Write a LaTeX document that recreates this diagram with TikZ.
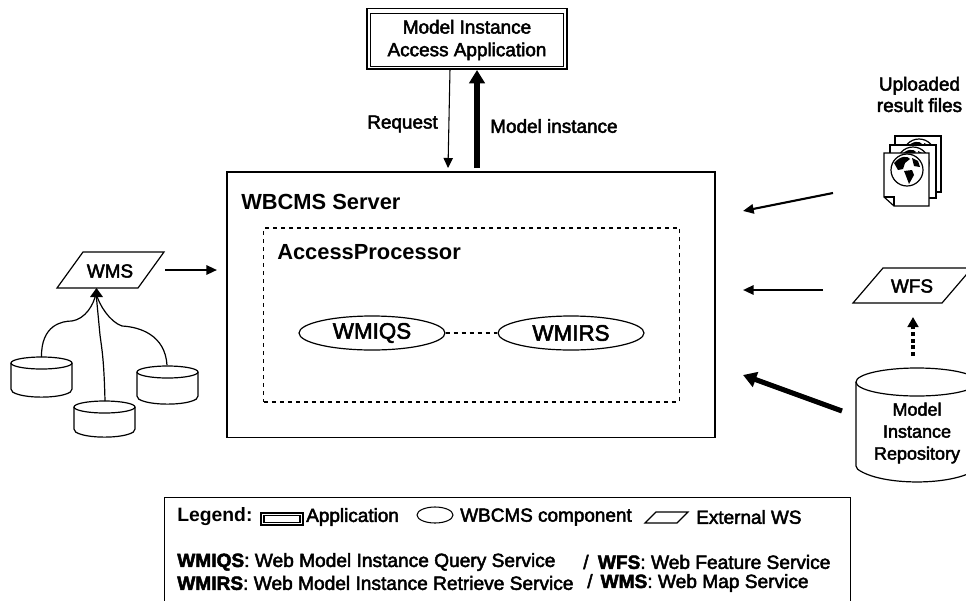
\documentclass[tikz,border=0pt]{standalone}
\usepackage{fontspec}
\setmainfont{Liberation Sans}
\newfontfamily\semi[FakeBold=2.5]{Liberation Sans}
\usetikzlibrary{arrows.meta,shapes.geometric,calc}
\tikzset{
 lbl/.style={font=\fontsize{14.2}{17}\selectfont\semi,align=center,inner sep=0pt},
 ttl/.style={font=\fontsize{16.4}{19}\selectfont\bfseries,inner sep=0pt,anchor=west},
 leg/.style={font=\fontsize{14.2}{17}\selectfont\semi,inner sep=0pt,anchor=west},
 legline/.style={font=\fontsize{14.35}{17}\selectfont\semi,inner sep=0pt,anchor=west},
 ln/.style={draw=black,line width=0.9pt},
 ell/.style={ellipse,draw=black,line width=0.9pt,minimum width=109.5pt,minimum height=25.5pt,inner sep=0pt,font=\fontsize{16.8}{19}\selectfont\semi},
 arr/.style={-{Triangle[length=8pt,width=7pt]},line width=1.6pt},
 thin arr/.style={-{Triangle[length=7.5pt,width=7pt]},line width=0.8pt},
 thick arr/.style={-{Triangle[length=10pt,width=11.5pt]},line width=3.8pt},
 page/.style={draw=black,line width=0.9pt,fill=white},
}
\newcommand{\cyl}[5]{% x1 x2 ytop ybottom ry
 \draw[ln,fill=white,rounded corners=1.5pt] (#1,#3) -- (#1,#4) .. controls ({#1+(#2-#1)*0.2},{#4+#5*1.3}) and ({#2-(#2-#1)*0.2},{#4+#5*1.3}) .. (#2,#4) -- (#2,#3);
 \draw[ln,fill=white] ({(#1+#2)/2},#3) ellipse [x radius={(#2-#1)/2},y radius=#5];
}
\newcommand{\pgram}[4]{% bl br tr tl
 \draw[ln,fill=white] (#1) -- (#2) -- (#3) -- (#4) -- cycle;}
\newcommand{\globe}[2]{%
 \draw[line width=0.9pt,fill=white] (#1,#2) circle [radius=16];
 \fill[black] (#1-13,#2-7) .. controls (#1-6,#2-15) and (#1+1,#2-14) .. (#1+3,#2-11) -- (#1-2,#2-7) -- (#1-4,#2-1) -- (#1-9,#2+0) -- cycle;
 \fill[black] (#1-3,#2+1) -- (#1+5,#2+0) -- (#1+7,#2+5) -- (#1+2,#2+14) -- (#1-1,#2+6) -- cycle;
 \fill[black] (#1+5,#2-12) -- (#1+11,#2-9) -- (#1+13,#2-3) -- (#1+7,#2-4) -- cycle;
}
\begin{document}
\begin{tikzpicture}[x=0.75pt,y=-0.75pt]
\useasboundingbox (0,0) rectangle (966,600);
\fill[white] (0,0) rectangle (966,600);
\clip (0,0) rectangle (966,600);

% Application
\node[draw=black,line width=1pt,minimum width=150pt,minimum height=45.5pt,inner sep=0pt] (app) at (467,38.5) {};
\node[draw=black,line width=0.9pt,minimum width=144.5pt,minimum height=40pt,lbl,fill=white] (apptxt) at (467,40) {Model Instance\\Access Application};

% Server
\node[draw=black,line width=1pt,minimum width=366pt,minimum height=199pt,inner sep=0pt] (srv) at (471,304.5) {};
\coordinate (srvtop1) at (448,168);
\coordinate (srvtop2) at (477,168);
\coordinate (apptop1) at (450,69);
\coordinate (apptop2) at (477,70);
\node[ttl] (srvlbl) at (241,202) {WBCMS Server};
\node[draw=black,dashed,line width=0.9pt,minimum width=311.5pt,minimum height=130.5pt,inner sep=0pt] (proc) at (471.5,315) {};
\node[ttl] (proclbl) at (277,252) {AccessProcessor};
\node[ell] (wmiqs) at (372,333) {WMIQS};
\node[ell] (wmirs) at (571,333) {WMIRS};
\draw[ln,line width=0.8pt,dash pattern=on 3.5pt off 2.5pt] (wmiqs) -- (wmirs);

\draw[thin arr] (apptop1) -- (srvtop1);
\draw[thick arr] (srvtop2) -- (apptop2);
\node[lbl,anchor=west] (req) at (367,124) {Request};
\node[lbl,anchor=west] (mi) at (490,126) {Model instance};

% WMS
\pgram{57,288}{138,288}{164,252}{83,252}
\node[lbl] (wms) at (110,271) {WMS};
\coordinate (wmsr) at (165,270);
\coordinate (srvl1) at (217,270);
\draw[arr] (wmsr) -- (srvl1);

\cyl{11}{72}{363}{391}{6}
\cyl{74}{135}{407}{431}{6}
\cyl{137}{198}{372}{398}{6}
\coordinate (c1) at (41.5,357);
\coordinate (c2) at (105,401);
\coordinate (c3) at (167,365);
\draw[line width=0.9pt] (c1) .. controls (41,325) and (62,321) .. (72,321) .. controls (85,319) and (94,305) .. (96,293);
\draw[line width=0.9pt] (c3) .. controls (165,335) and (140,327) .. (122,326) .. controls (110,322) and (99,305) .. (96,293);
\draw[line width=0.9pt] (c2) .. controls (104,360) and (102,350) .. (100,335) -- (96,293);
\fill[black] (96.5,288) -- (103,297) -- (90,297) -- cycle;

% Uploaded
\node[lbl,font=\fontsize{14.2}{16}\selectfont\semi] (up) at (919.5,94.5) {Uploaded\\result files};
\draw[page] (895,136) -- (941,136) -- (941,192) -- (895,192) -- cycle;
\begin{scope}\clip (895,136) rectangle (941,192); \globe{919}{155} \end{scope}
\draw[page] (890,145) -- (936,145) -- (936,198) -- (890,198) -- cycle;
\begin{scope}\clip (890,145) rectangle (936,198); \globe{913}{163} \end{scope}
\draw[page] (884,153) -- (929,153) -- (929,206) -- (894,206) -- (884,197) -- cycle;
\draw[line width=0.9pt] (884,197) -- (894,197) -- (894,206);
\globe{907}{170}
\coordinate (upl) at (833,193);
\coordinate (srvr1) at (743,211);
\draw[arr] (upl) -- (srvr1);

% WFS
\pgram{853,303}{942,303}{972,268}{883,268}
\node[lbl] (wfs) at (912,286) {WFS};
\coordinate (wfsl) at (823,290);
\coordinate (srvr2) at (743,290);
\draw[arr] (wfsl) -- (srvr2);

% Repository
\cyl{856}{978}{382}{468}{14}
\node[lbl,font=\fontsize{13.5}{16.5}\selectfont\semi] (repo) at (917,433) {Model\\Instance\\Repository};
\coordinate (repot) at (913,356);
\coordinate (wfsb) at (913,317);
\draw[-{Triangle[length=7.5pt,width=8pt]},line width=3pt,dash pattern=on 3pt off 2pt] (repot) -- (wfsb);
\coordinate (repol) at (842,411);
\coordinate (srvr3) at (743,375);
\draw[thick arr] (repol) -- (srvr3);

% Legend
\node[draw=black,line width=0.9pt,minimum width=514.5pt,minimum height=90pt,inner sep=0pt,anchor=north west] (legbox) at (164,497) {};
\node[leg,font=\fontsize{14.5}{17}\selectfont\bfseries] (l1) at (177,517) {Legend:};
\node[draw=black,line width=0.8pt,minimum width=31.5pt,minimum height=9pt,inner sep=0pt] (la) at (282,519) {};
\node[draw=black,line width=0.8pt,minimum width=27pt,minimum height=5.5pt,inner sep=0pt] (la2) at (282,519) {};
\node[leg] (l2) at (306,517) {Application};
\node[ellipse,draw=black,line width=0.8pt,minimum width=27pt,minimum height=12pt,inner sep=0pt] (le) at (435,515) {};
\node[leg] (l3) at (460,517) {WBCMS component};
\pgram{645,523}{677,523}{688,512}{656,512}
\node[leg] (l4) at (696,517) {External WS};
\node[legline] (l5) at (177,562) {{\bfseries WMIQS}: Web Model Instance Query Service};
\node[legline] (l6) at (583,562) {/\hspace{3pt} {\bfseries WFS}: Web Feature Service};
\node[legline] (l7) at (177,583) {{\bfseries WMIRS}: Web Model Instance Retrieve Service};
\node[legline] (l8) at (587,583) {/\hspace{2pt} {\bfseries WMS}: Web Map Service};
\end{tikzpicture}
\end{document}
